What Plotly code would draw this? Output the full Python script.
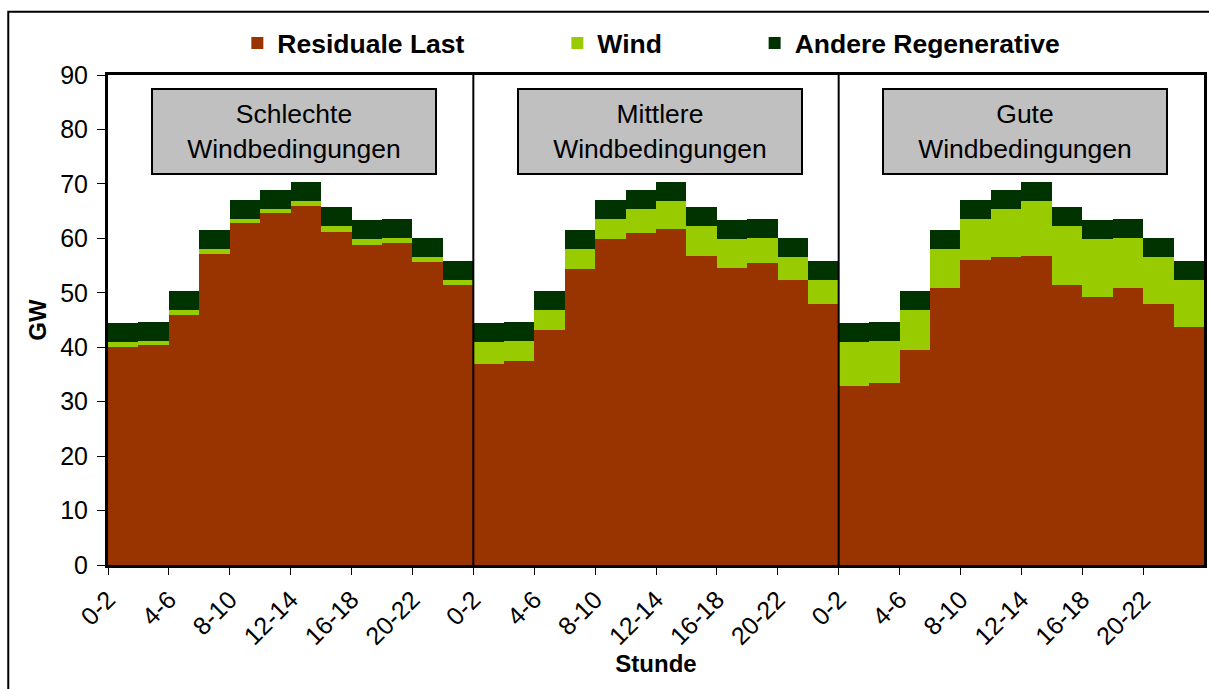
import plotly.graph_objects as go

# Stundenblöcke (je 2 h), drei Szenarien nebeneinander
HOURS = ["0-2", "2-4", "4-6", "6-8", "8-10", "10-12",
         "12-14", "14-16", "16-18", "18-20", "20-22", "22-24"]
SCENARIOS = ["Schlechte<br>Windbedingungen",
             "Mittlere<br>Windbedingungen",
             "Gute<br>Windbedingungen"]

# GW
residual_schlecht = [40.1, 40.5, 46.0, 57.2, 62.8, 64.6, 65.9, 61.1, 58.7, 59.1, 55.6, 51.5]
residual_mittel = [37.0, 37.4, 43.1, 54.3, 59.8, 60.9, 61.8, 56.7, 54.5, 55.4, 52.3, 48.0]
residual_gut = [32.8, 33.5, 39.4, 50.8, 56.1, 56.5, 56.7, 51.4, 49.3, 50.8, 47.9, 43.8]

wind_schlecht = [0.8, 0.7, 0.8, 0.8, 0.7, 0.7, 0.9, 1.1, 1.1, 0.9, 0.9, 0.8]
wind_mittel = [3.9, 3.8, 3.7, 3.7, 3.7, 4.4, 5.0, 5.5, 5.3, 4.6, 4.2, 4.3]
wind_gut = [8.1, 7.7, 7.4, 7.2, 7.4, 8.8, 10.1, 10.8, 10.5, 9.2, 8.6, 8.5]

andere = [3.5] * 12

BROWN = "#993300"
LIME = "#99CC00"
DARK = "#003300"
FONT = "Liberation Sans, Arial, sans-serif"

n = len(HOURS)
x = [i + 0.5 for i in range(3 * n)]
residual = residual_schlecht + residual_mittel + residual_gut
wind = wind_schlecht + wind_mittel + wind_gut
other = andere * 3

tickvals = list(range(0, 3 * n, 2))
ticktext = [HOURS[i % n] for i in tickvals]

fig = go.Figure()
fig.add_bar(x=x, y=residual, width=1, name="Residuale Last",
            marker=dict(color=BROWN, line=dict(width=0)), legend="legend")
fig.add_bar(x=x, y=wind, width=1, name="Wind",
            marker=dict(color=LIME, line=dict(width=0)), legend="legend2")
fig.add_bar(x=x, y=other, width=1, name="Andere Regenerative",
            marker=dict(color=DARK, line=dict(width=0)), legend="legend3")

# Trennlinien zwischen den Szenarien
for k in (1, 2):
    fig.add_shape(type="line", x0=k * n, x1=k * n, y0=0, y1=90,
                  xref="x", yref="y", line=dict(color="black", width=2))

# graue Beschriftungskästen
for k, label in enumerate(SCENARIOS):
    fig.add_annotation(x=k * n + 6.12, y=79.6, xref="x", yref="y",
                       text=label, showarrow=False, align="center",
                       width=280, height=81, bgcolor="#C0C0C0",
                       bordercolor="black", borderwidth=2,
                       font=dict(family=FONT, size=26.5, color="black"))

# äußerer Rahmen
fig.add_shape(type="rect", xref="paper", yref="paper",
              x0=-0.091, x1=1.2, y0=-0.5, y1=1.129,
              line=dict(color="black", width=2), layer="below")

legend_common = dict(orientation="h", yanchor="middle", y=1.065,
                     xanchor="left", bgcolor="rgba(0,0,0,0)",
                     font=dict(family=FONT, size=26.5, color="black",
                               weight="bold"),
                     itemclick=False, itemdoubleclick=False)

fig.update_layout(
    width=1209, height=689,
    barmode="stack", bargap=0,
    plot_bgcolor="white", paper_bgcolor="white",
    margin=dict(l=108, r=2, t=75, b=124),
    font=dict(family=FONT, size=24, color="black"),
    showlegend=True,
    legend=dict(x=0.118, **legend_common),
    legend2=dict(x=0.41, **legend_common),
    legend3=dict(x=0.59, **legend_common),
    xaxis=dict(range=[0, 3 * n], tickmode="array", tickvals=tickvals,
               ticktext=ticktext, tickangle=-45, ticks="outside",
               ticklen=7, tickcolor="black", showgrid=False,
               showline=True, linecolor="black", linewidth=3, mirror=True,
               tickfont=dict(family=FONT, size=25),
               title=dict(text="<b>Stunde</b>", standoff=0,
                          font=dict(family=FONT, size=24))),
    yaxis=dict(range=[0, 90], dtick=10, ticks="outside", ticklen=8,
               tickcolor="black", showgrid=False, zeroline=False,
               showline=True, linecolor="black", linewidth=3, mirror=True,
               ticklabelstandoff=4,
               tickfont=dict(family=FONT, size=25),
               title=dict(text="<b>GW</b>", standoff=7,
                          font=dict(family=FONT, size=24))),
)

fig.write_html("out.html", config={"displayModeBar": False},
               post_script="document.body.style.margin='0';")
